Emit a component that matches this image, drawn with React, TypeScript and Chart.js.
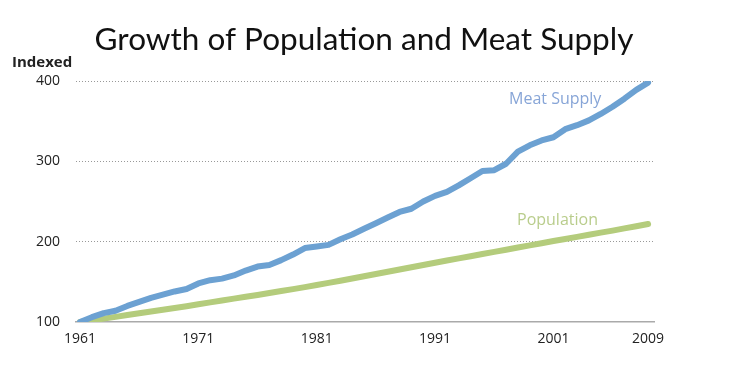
import React, { useEffect, useRef } from "react";
import { Chart, registerables } from "chart.js";

Chart.register(...registerables);

const years: number[] = [];
for (let y = 1961; y <= 2009; y++) years.push(y);

const meatSupply = [
  100, 106, 111, 114, 120, 125, 130, 134, 138, 141,
  148, 152, 154, 158, 164, 169, 171, 177, 184, 192,
  194, 196, 203, 209, 216, 223, 230, 237, 241, 250,
  257, 262, 270, 279, 288, 289, 297, 312, 320, 326,
  330, 340, 345, 351, 359, 368, 378, 389, 398,
];

const population = [
  100.0, 102.0, 104.2, 106.4, 108.6, 110.8, 113.0, 115.2, 117.4, 119.7,
  122.0, 124.4, 126.7, 129.1, 131.4, 133.7, 136.1, 138.5, 140.9, 143.4,
  146.0, 148.7, 151.4, 154.1, 156.9, 159.7, 162.5, 165.3, 168.1, 171.0,
  173.8, 176.5, 179.2, 181.9, 184.6, 187.3, 190.0, 192.7, 195.4, 198.1,
  200.8, 203.4, 206.0, 208.6, 211.2, 213.8, 216.5, 219.2, 221.9,
];

const xTicks = [1961, 1971, 1981, 1991, 2001, 2009];
const yTicks = [100, 200, 300, 400];

const titleText = "Growth of Population and Meat Supply";
const yAxisLabel = "Indexed";
const meatLabel = "Meat Supply";
const popLabel = "Population";

const BLUE = "rgb(108,161,210)";
const GREEN = "rgb(180,204,124)";

const textPlugin = {
  id: "texts",
  afterDraw(chart: any) {
    const ctx = chart.ctx;
    ctx.save();
    ctx.fillStyle = "#111";
    ctx.font = "31.5px Lato, 'Open Sans', sans-serif";
    ctx.textAlign = "center";
    ctx.textBaseline = "middle";
    ctx.fillText(titleText, 364, 40);

    ctx.font = "bold 15px 'Open Sans', sans-serif";
    ctx.textAlign = "left";
    ctx.fillStyle = "#222";
    ctx.fillText(yAxisLabel, 12, 63);

    ctx.font = "16px 'Open Sans', sans-serif";
    ctx.fillStyle = "rgb(135,165,215)";
    ctx.fillText(meatLabel, 509, 99);
    ctx.fillStyle = "rgb(185,205,140)";
    ctx.fillText(popLabel, 517, 220);
    ctx.restore();
  },
};

export default function App() {
  const ref = useRef<HTMLCanvasElement>(null);
  useEffect(() => {
    if (!ref.current) return;
    const chart = new Chart(ref.current, {
      type: "line",
      data: {
        datasets: [
          {
            label: meatLabel,
            data: years.map((y, i) => ({ x: y, y: meatSupply[i] })),
            borderColor: BLUE,
            borderWidth: 6,
            pointRadius: 0,
            tension: 0,
            borderCapStyle: "round",
            borderJoinStyle: "round",
          },
          {
            label: popLabel,
            data: years.map((y, i) => ({ x: y, y: population[i] })),
            borderColor: GREEN,
            borderWidth: 6,
            pointRadius: 0,
            tension: 0,
            borderCapStyle: "round",
            borderJoinStyle: "round",
          },
        ],
      },
      options: {
        responsive: false,
        animation: false,
        layout: { padding: { top: 81, right: 92, left: 0, bottom: 0 } },
        plugins: { legend: { display: false }, title: { display: false }, tooltip: { enabled: false } },
        scales: {
          x: {
            type: "linear",
            min: 1960.66,
            max: 2009.5,
            afterBuildTicks: (s: any) => {
              s.ticks = xTicks.map((v) => ({ value: v }));
            },
            afterFit: (s: any) => {
              s.height = 54;
            },
            grid: { display: false, drawTicks: false },
            border: { display: true, color: "#aaa", width: 1.5 },
            ticks: {
              padding: 9,
              color: "#222",
              font: { family: "'Open Sans', sans-serif", size: 14 },
              maxRotation: 0,
              autoSkip: false,
              callback: (v: any) => String(v),
            },
          },
          y: {
            type: "linear",
            min: 100,
            max: 400,
            afterBuildTicks: (s: any) => {
              s.ticks = yTicks.map((v) => ({ value: v }));
            },
            afterFit: (s: any) => {
              s.width = 76;
            },
            grid: {
              drawTicks: false,
              color: (c: any) => (c.tick && c.tick.value === 100 ? "rgba(0,0,0,0)" : "#999"),
              lineWidth: 1,
            },
            border: { display: false, dash: [1, 2] },
            ticks: {
              padding: 16,
              color: "#222",
              font: { family: "'Open Sans', sans-serif", size: 14 },
              callback: (v: any) => String(v),
            },
          },
        },
      },
      plugins: [textPlugin],
    });
    return () => chart.destroy();
  }, []);
  return (
    <div style={{ position: "absolute", left: 0, top: 0, width: 746, height: 376, background: "#fff" }}>
      <canvas ref={ref} width={746} height={376} />
    </div>
  );
}
